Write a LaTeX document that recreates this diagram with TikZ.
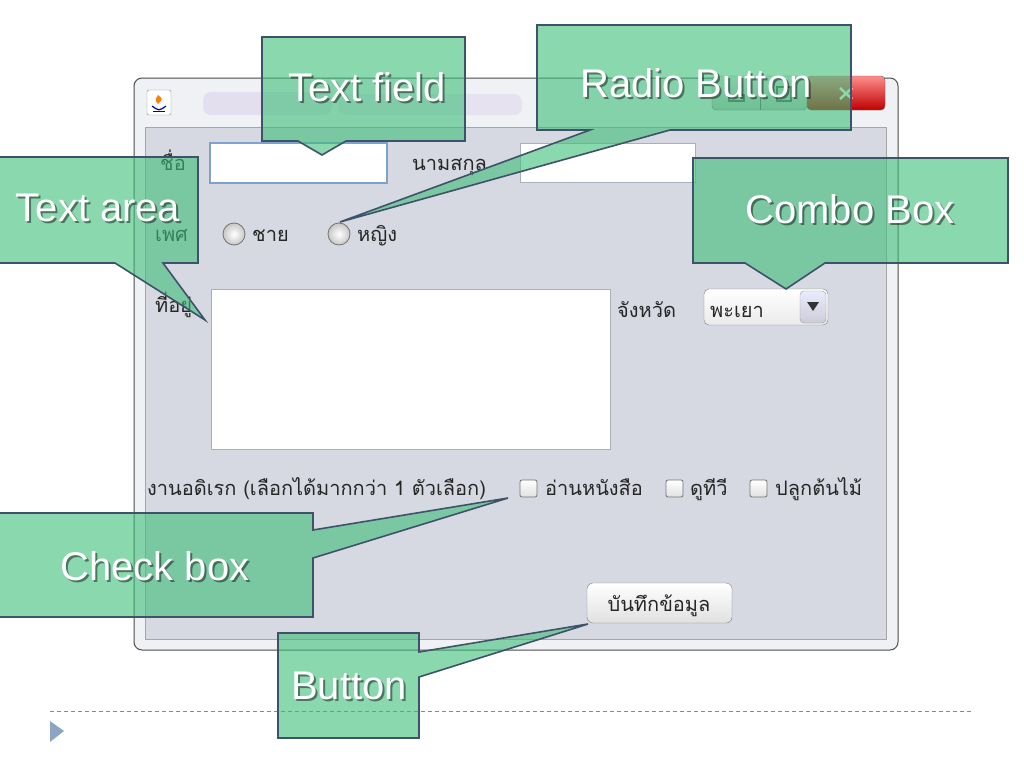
\documentclass[tikz,border=0pt]{standalone}
\usepackage{fontspec}
\setmainfont{Liberation Sans}
\newfontfamily\thaifont[Script=Thai]{Loma}
\usetikzlibrary{positioning}

\definecolor{calloutgreen}{RGB}{60,190,120}
\definecolor{calloutline}{RGB}{62,82,105}
\definecolor{panelgray}{RGB}{214,217,225}
\definecolor{framegray}{RGB}{240,241,244}
\definecolor{fieldline}{RGB}{170,176,186}
\definecolor{focusblue}{RGB}{125,162,206}
\definecolor{bulletblue}{RGB}{140,165,195}

\tikzset{
  callout/.style={fill=calloutgreen, fill opacity=0.6, draw=calloutline, line width=1.6pt, line join=miter},
  calltext/.style={text=white, font=\fontsize{40}{48}\selectfont, inner sep=0pt},
  callshadow/.style={text=black, opacity=0.45, font=\fontsize{40}{48}\selectfont, inner sep=0pt},
  thailabel/.style={font=\thaifont\fontsize{20}{24}\selectfont, inner sep=0pt, anchor=base west, text=black!85},
  field/.style={fill=white, draw=fieldline, line width=0.8pt},
  tickbox/.style={top color=white, bottom color=black!12, draw=black!55, line width=0.8pt, rounded corners=2pt},
  radiobtn/.style={inner color=white, outer color=black!22, draw=black!55, line width=0.8pt},
}

\begin{document}
\begin{tikzpicture}[x=1pt, y=-1pt]
  \useasboundingbox (0,0) rectangle (1024,768);
  \fill[white] (0,0) rectangle (1024,768);

  % window frame
  \draw[fill=framegray, draw=black!70, line width=1pt, rounded corners=8pt] (134,78) rectangle (898,650);
  \fill[blue!40!violet, opacity=0.07, rounded corners=8pt] (203,92) rectangle (332,115);
  \fill[blue!40!violet, opacity=0.06, rounded corners=8pt] (338,94) rectangle (522,115);
  % window icon
  \draw[fill=white, draw=black!45, rounded corners=2pt] (147,90) rectangle (171,115);
  \fill[orange] (158,95) .. controls (163,99) .. (158,104) .. controls (155,100) .. (158,95);
  \draw[blue!70!black, line width=1.2pt] (152,106) .. controls (159,111) .. (166,106);
  \draw[blue!70!black, line width=1pt] (153,111) -- (165,111);
  % title buttons
  \draw[top color=black!8, bottom color=black!25, draw=black!60, rounded corners=4pt] (712,76) rectangle (807,110);
  \draw[black!60] (760,78) -- (760,110);
  \draw[top color=red!45, bottom color=red!75!black, draw=black!60, rounded corners=4pt] (807,76) rectangle (885,110);
  \draw[black!65, line width=1.2pt] (729,95) rectangle (744,101);
  \draw[black!65, line width=1.2pt] (777,87) rectangle (791,101);
  \draw[white, line width=2.5pt] (840,88) -- (852,99) (840,99) -- (852,88);

  % content panel
  \draw[fill=panelgray, draw=black!35, line width=0.8pt] (145,127) rectangle (886,639);

  % name row
  \node[thailabel] (nameLbl) at (160,170) {ชื่อ};
  \draw[field, draw=focusblue, line width=1.4pt] (210,143) rectangle (387,183);
  \node[thailabel] (surnameLbl) at (412,170) {นามสกุล};
  \draw[field] (520,143) rectangle (695,182);

  % gender row
  \node[thailabel] (genderLbl) at (155,241) {เพศ};
  \draw[radiobtn] (234,234) circle (11);
  \node[thailabel] (maleLbl) at (252,241) {ชาย};
  \coordinate (radioFemale) at (339,234);
  \draw[radiobtn] (radioFemale) circle (11);
  \node[thailabel] (femaleLbl) at (357,241) {หญิง};

  % address and province
  \node[thailabel] (addrLbl) at (155,312) {ที่อยู่};
  \draw[field] (211,289) rectangle (610,449);
  \node[thailabel] (provLbl) at (617,317) {จังหวัด};
  \draw[top color=white, bottom color=black!8, draw=black!50, rounded corners=5pt] (704,289) rectangle (828,325);
  \draw[top color=blue!8, bottom color=blue!25!black!20, draw=black!40, rounded corners=4pt] (800,291) rectangle (826,323);
  \fill[black!80] (807,302) -- (819,302) -- (813,311) -- cycle;
  \node[thailabel] (provVal) at (710,317) {พะเยา};

  % hobby row
  \node[thailabel] (hobbyLbl) at (147,495) {งานอดิเรก (เลือกได้มากกว่า 1 ตัวเลือก)};
  \draw[tickbox] (520,480) rectangle (537,497);
  \node[thailabel] (readLbl) at (545,495) {อ่านหนังสือ};
  \draw[tickbox] (666,480) rectangle (683,497);
  \node[thailabel] (tvLbl) at (690,495) {ดูทีวี};
  \draw[tickbox] (750,480) rectangle (767,497);
  \node[thailabel] (plantLbl) at (775,495) {ปลูกต้นไม้};

  % save button
  \draw[top color=white, bottom color=black!12, draw=black!50, rounded corners=6pt] (587,583) rectangle (732,623);
  \node[thailabel, anchor=base] (saveLbl) at (659,611) {บันทึกข้อมูล};

  % slide footer
  \draw[bulletblue!85!black, dash pattern=on 4pt off 3pt, line width=1pt] (50,711) -- (972,711);
  \fill[bulletblue] (50,721) -- (64,731) -- (50,742) -- cycle;

  % callouts
  \coordinate (tfTip) at (322,155);
  \draw[callout] (262,37) -- (465,37) -- (465,141) -- (346,141) -- (tfTip) -- (298,141) -- (262,141) -- cycle;
  \coordinate (rbTip) at (340,222);
  \draw[callout] (537,25) -- (851,25) -- (851,130) -- (670,130) -- (rbTip) -- (590,130) -- (537,130) -- cycle;
  \coordinate (taTip) at (205,320);
  \draw[callout] (-5,157) -- (198,157) -- (198,263) -- (163,263) -- (taTip) -- (115,263) -- (-5,263) -- cycle;
  \coordinate (cmTip) at (786,289);
  \draw[callout] (693,158) -- (1008,158) -- (1008,263) -- (825,263) -- (cmTip) -- (745,263) -- (693,263) -- cycle;
  \coordinate (cbTip) at (508,498);
  \draw[callout] (-5,513) -- (313,513) -- (313,530) -- (cbTip) -- (313,558) -- (313,617) -- (-5,617) -- cycle;
  \coordinate (btTip) at (588,624);
  \draw[callout] (278,633) -- (419,633) -- (419,652) -- (btTip) -- (419,677) -- (419,738) -- (278,738) -- cycle;

  % callout texts
  \node[callshadow] at (369,89) {Text field};
  \node[calltext] (tfText) at (367,87) {Text field};
  \node[callshadow] at (698,85) {Radio Button};
  \node[calltext] (rbText) at (696,83) {Radio Button};
  \node[callshadow] at (100,210) {Text area};
  \node[calltext] (taText) at (98,208) {Text area};
  \node[callshadow] at (852,211) {Combo Box};
  \node[calltext] (cmText) at (850,209) {Combo Box};
  \node[callshadow] at (157,568) {Check box};
  \node[calltext] (cbText) at (155,566) {Check box};
  \node[callshadow] at (351,688) {Button};
  \node[calltext] (btText) at (349,686) {Button};
\end{tikzpicture}
\end{document}
